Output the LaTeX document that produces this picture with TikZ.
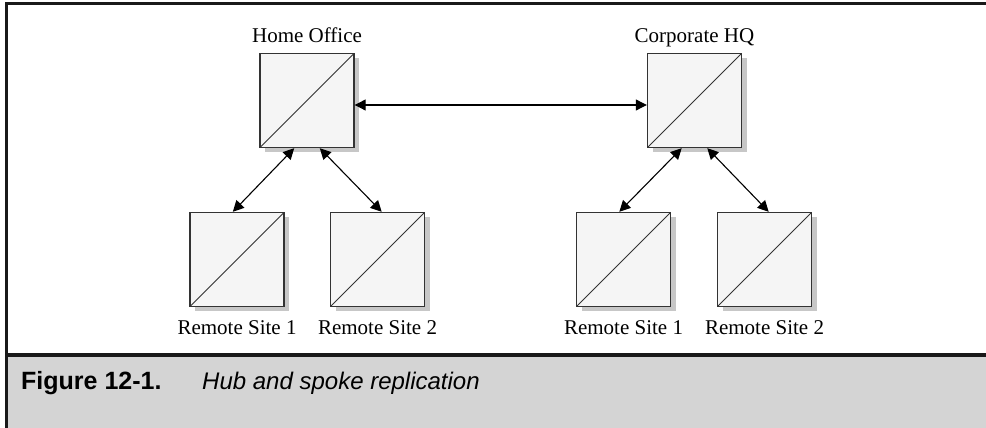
\documentclass[tikz,border=0pt]{standalone}
\usepackage{fontspec}
\setmainfont{Liberation Serif}
\newfontfamily\capfont{Liberation Sans}
\usetikzlibrary{arrows.meta,shadows}

\begin{document}
\begin{tikzpicture}[x=1pt,y=1pt,
  site/.style={draw=black!80,line width=1.4pt,fill=black!4,minimum size=94pt,inner sep=0pt,
    drop shadow={shadow xshift=5pt,shadow yshift=-5pt,fill=black!22,opacity=1},
    path picture={\draw[line width=1pt] (path picture bounding box.south west) -- (path picture bounding box.north east);}},
  hub/.style={site,label={[yshift=10pt]above:{#1}}},
  spoke/.style={site,label={[yshift=-13pt]below:{#1}}},
  link/.style={<->,>={Triangle[length=11pt,width=11pt]},line width=1.1pt},
  every label/.style={font=\fontsize{21}{25}\selectfont,inner sep=0pt,text height=14.5pt,text depth=0pt}]
\useasboundingbox (0,0) rectangle (986,428);
% frame and caption bar
\fill[black!17] (6,0) rectangle (986,71);
\draw[line width=3pt,black!90] (986,424) -- (6,424) -- (6,0);
\draw[line width=4pt,black!90] (6,72.5) -- (986,72.5);
% sites
\node[hub=Home Office] (home) at (307,327.5) {};
\node[hub=Corporate HQ] (hq) at (694.5,327.5) {};
\node[spoke=Remote Site 1] (homeA) at (237,168.5) {};
\node[spoke=Remote Site 2] (homeB) at (377.5,168.5) {};
\node[spoke=Remote Site 1] (hqA) at (623.5,168.5) {};
\node[spoke=Remote Site 2] (hqB) at (764.5,168.5) {};
% links
\draw[link] ([yshift=-4.5pt]home.east) -- ([yshift=-4.5pt]hq.west);
\draw[link] (home.-105) -- (homeA.95);
\draw[link] (home.-75) -- (homeB.85);
\draw[link] (hq.-105) -- (hqA.95);
\draw[link] (hq.-75) -- (hqB.85);
% caption
\node[anchor=base west,inner sep=0pt,font=\capfont\bfseries\fontsize{25}{30}\selectfont] (fignum) at (21,38) {Figure 12-1.};
\node[anchor=base west,inner sep=0pt,font=\capfont\itshape\fontsize{24}{28}\selectfont] (figtitle) at (202,38) {Hub and spoke replication};
\end{tikzpicture}
\end{document}
